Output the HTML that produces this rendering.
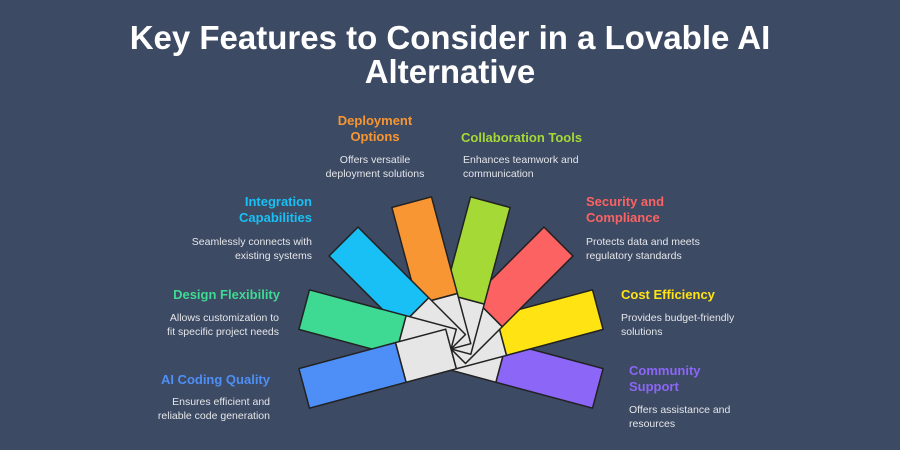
<!DOCTYPE html>
<html><head><meta charset="utf-8"><style>
html,body{margin:0;padding:0;background:#3d4a63;}
body{width:900px;height:450px;position:relative;overflow:hidden;font-family:"Liberation Sans",sans-serif;}
.t{position:absolute;left:0;width:900px;text-align:center;color:#fff;font-weight:bold;font-size:33px;line-height:34px;top:21px;}
.l{position:absolute;font-weight:bold;font-size:13px;line-height:16px;white-space:nowrap;}
.d{position:absolute;color:#e4e6ea;font-size:10.5px;line-height:14px;white-space:nowrap;}
.r{text-align:right;}
.c{text-align:center;}
</style></head><body>
<div class="t">Key Features to Consider in a Lovable AI<br>Alternative</div>
<svg width="900" height="450" style="position:absolute;left:0;top:0">
<g stroke="#222" stroke-width="1.5" stroke-linejoin="round">
<g transform="translate(451,349) rotate(15)"><rect x="0" y="-20.5" width="52" height="41" fill="#e6e6e6"/><rect x="52" y="-20.5" width="100" height="41" fill="#8b66f7"/></g>
<g transform="translate(451,349) rotate(-15)"><rect x="0" y="-20.5" width="52" height="41" fill="#e6e6e6"/><rect x="52" y="-20.5" width="100" height="41" fill="#ffe312"/></g>
<g transform="translate(451,349) rotate(-45)"><rect x="0" y="-20.5" width="52" height="41" fill="#e6e6e6"/><rect x="52" y="-20.5" width="100" height="41" fill="#fc6262"/></g>
<g transform="translate(451,349) rotate(-75)"><rect x="0" y="-20.5" width="52" height="41" fill="#e6e6e6"/><rect x="52" y="-20.5" width="100" height="41" fill="#a4d936"/></g>
<g transform="translate(451,349) rotate(-105)"><rect x="0" y="-20.5" width="52" height="41" fill="#e6e6e6"/><rect x="52" y="-20.5" width="100" height="41" fill="#f79633"/></g>
<g transform="translate(451,349) rotate(-135)"><rect x="0" y="-20.5" width="52" height="41" fill="#e6e6e6"/><rect x="52" y="-20.5" width="100" height="41" fill="#18c0f5"/></g>
<g transform="translate(451,349) rotate(-165)"><rect x="0" y="-20.5" width="52" height="41" fill="#e6e6e6"/><rect x="52" y="-20.5" width="100" height="41" fill="#3ed992"/></g>
<g transform="translate(451,349) rotate(165)"><rect x="0" y="-20.5" width="52" height="41" fill="#e6e6e6"/><rect x="52" y="-20.5" width="100" height="41" fill="#4d8ff7"/></g>
</g></svg>
<div class="l c" style="left:315px;width:120px;top:113px;color:#f79633">Deployment<br>Options</div>
<div class="d c" style="left:305px;width:140px;top:153px">Offers versatile<br>deployment solutions</div>
<div class="l" style="left:461px;top:130px;color:#a4d936">Collaboration Tools</div>
<div class="d" style="left:463px;top:153px">Enhances teamwork and<br>communication</div>
<div class="l r" style="right:588px;top:194px;color:#18c0f5">Integration<br>Capabilities</div>
<div class="d r" style="right:588px;top:235px">Seamlessly connects with<br>existing systems</div>
<div class="l" style="left:586px;top:194px;color:#fc6262">Security and<br>Compliance</div>
<div class="d" style="left:586px;top:235px">Protects data and meets<br>regulatory standards</div>
<div class="l r" style="right:620px;top:287px;color:#3ed992">Design Flexibility</div>
<div class="d r" style="right:621px;top:311px">Allows customization to<br>fit specific project needs</div>
<div class="l" style="left:621px;top:287px;color:#ffe312">Cost Efficiency</div>
<div class="d" style="left:621px;top:311px">Provides budget-friendly<br>solutions</div>
<div class="l r" style="right:630px;top:372px;color:#4d8ff7">AI Coding Quality</div>
<div class="d r" style="right:630px;top:395px">Ensures efficient and<br>reliable code generation</div>
<div class="l" style="left:629px;top:363px;color:#8b66f7">Community<br>Support</div>
<div class="d" style="left:629px;top:403px">Offers assistance and<br>resources</div>
</body></html>
